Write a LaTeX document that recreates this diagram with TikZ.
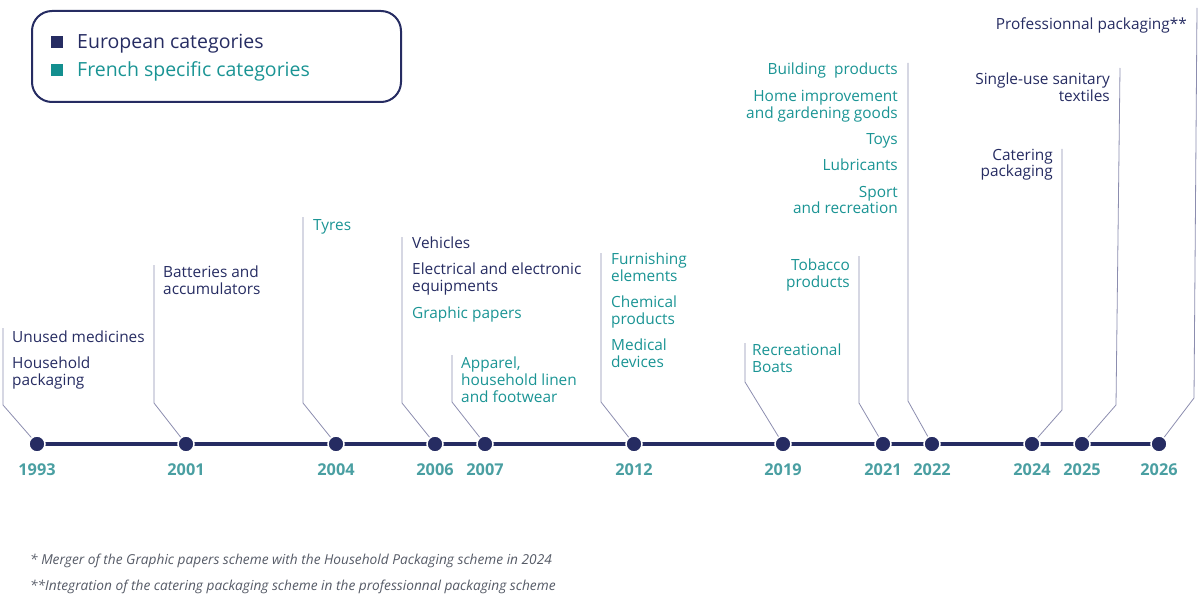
\documentclass[tikz,border=0pt]{standalone}
\usepackage{fontspec}
\setmainfont{Open Sans}
\usetikzlibrary{backgrounds}
\definecolor{navy}{HTML}{262C62}
\definecolor{tealc}{HTML}{1A9494}
\definecolor{yearc}{HTML}{4A9FA2}
\definecolor{conn}{HTML}{8C8DAF}
\definecolor{legteal}{HTML}{138F8F}
\definecolor{notec}{HTML}{555A66}
\begin{document}
\begin{tikzpicture}[x=1pt,y=-1pt,
  dot/.style={circle, fill=navy, draw=white, line width=1.5pt, minimum size=16pt, inner sep=0pt},
  year/.style={font=\bfseries\fontsize{16.3}{18}\selectfont, text=yearc, inner sep=0pt},
  lab/.style={font=\fontsize{15.4}{17}\selectfont, inner sep=0pt, yshift=-1pt},
  eu/.style={lab, text=navy},
  fr/.style={lab, text=tealc},
  lw/.style={anchor=base west, align=left},
  le/.style={anchor=base east, align=right},
  leader/.style={draw=conn, line width=0.8pt},
  legtext/.style={font=\fontsize{19.5}{22}\selectfont, anchor=base west, inner sep=0pt},
  sq/.style={minimum size=12pt, inner sep=0pt},
  note/.style={font=\itshape\fontsize{13.7}{15}\selectfont, text=notec, anchor=base west, inner sep=0pt}
]
\useasboundingbox (0,0) rectangle (1200,599);

% legend
\node[draw=navy, line width=2pt, rounded corners=20pt, minimum width=369pt, minimum height=91pt, anchor=north west] (legend) at (31,10) {};
\node[sq, fill=navy] (sqeu) at (57,42) {};
\node[sq, fill=legteal] (sqfr) at (57,70) {};
\node[legtext, text=navy] (legeu) at (77,49) {European categories};
\node[legtext, text=tealc] (legfr) at (77,77) {French specific categories};

% dots
\foreach \yr/\x in {1993/37,2001/186,2004/336,2006/435,2007/485,2012/634,2019/783,2021/883,2022/932,2024/1032,2025/1082,2026/1159}{
  \node[dot] (d\yr) at (\x,444) {};
  \node[year] (y\yr) at (\x,470) {\yr};
}
\begin{pgfonlayer}{background}
\draw[navy, line width=4pt] (d1993.center) -- (d2026.center);
\end{pgfonlayer}

% leader coordinates
\foreach \yr/\bx/\by/\tx/\ty in {1993/3/405/3/328, 2001/154/403/154/265, 2004/303/403/303/217,
  2006/402/403/402/237, 2007/452/402/452/355, 2012/601/402/601/253, 2019/745/382/745/343,
  2021/859/403/859/256, 2022/908/401/908/63, 2024/1062/410/1062/149, 2025/1116/405/1120/68,
  2026/1194/398/1197/8}{
  \coordinate (b\yr) at (\bx,\by);
  \coordinate (t\yr) at (\tx,\ty);
  \draw[leader] (d\yr) -- (b\yr) -- (t\yr);
}

% labels (y = baseline of last line)
\node[eu,lw] (l1993a) at (12,341) {Unused medicines};
\node[eu,lw] (l1993b) at (12,384) {Household\\packaging};
\node[eu,lw] (l2001) at (163,293) {Batteries and\\accumulators};
\node[fr,lw] (l2004) at (313,229) {Tyres};
\node[eu,lw] (l2006a) at (412,247) {Vehicles};
\node[eu,lw] (l2006b) at (412,290) {Electrical and electronic\\equipments};
\node[fr,lw] (l2006c) at (412,317) {Graphic papers};
\node[fr,lw] (l2007) at (461,401) {Apparel,\\household linen\\and footwear};
\node[fr,lw] (l2012a) at (611,280) {Furnishing\\elements};
\node[fr,lw] (l2012b) at (611,323) {Chemical\\products};
\node[fr,lw] (l2012c) at (611,366) {Medical\\devices};
\node[fr,lw] (l2019) at (752,371) {Recreational\\Boats};
\node[fr,le] (l2021) at (850,286) {Tobacco\\products};
\node[fr,le] (l2022a) at (898,74) {Building\ \ products};
\node[fr,le] (l2022b) at (898,118) {Home improvement\\and gardening goods};
\node[fr,le] (l2022c) at (898,144) {Toys};
\node[fr,le] (l2022d) at (898,170) {Lubricants};
\node[fr,le] (l2022e) at (898,213) {Sport\\and recreation};
\node[eu,le] (l2024) at (1053,176) {Catering\\packaging};
\node[eu,le] (l2025) at (1110,101) {Single-use sanitary\\textiles};
\node[eu,le] (l2026) at (1187,29) {Professionnal packaging**};

% notes
\node[note] (n1) at (30,564.5) {* Merger of the Graphic papers scheme with the Household Packaging scheme in 2024};
\node[note] (n2) at (30,590.5) {**Integration of the catering packaging scheme in the professionnal packaging scheme};
\end{tikzpicture}
\end{document}
